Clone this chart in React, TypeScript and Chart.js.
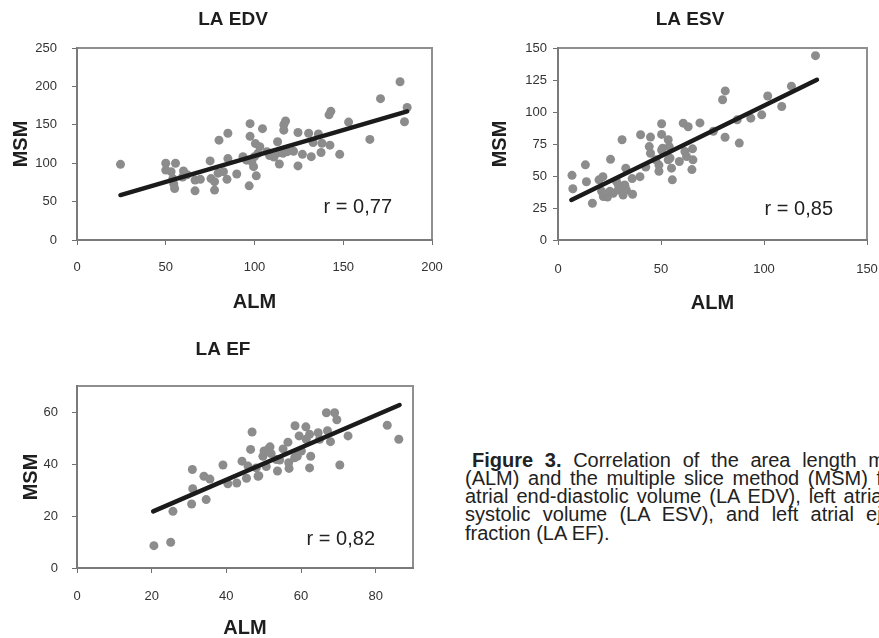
import React, { useEffect, useRef } from "react";
import { Chart, registerables } from "chart.js";

Chart.register(...registerables);

const FONT = '"Liberation Sans", Arial, Helvetica, sans-serif';

// ---------- LA EDV ----------
const edvTitle = "LA EDV";
const edvR = "r = 0,77";
const edvALM = [24.5, 50, 55.5, 50, 53, 60, 62, 59.5, 54, 54.5, 55, 66.5, 66.5, 69.5, 75, 75.5, 77.5, 77.5, 80, 79.5, 82.5, 85, 85, 84.5, 90, 93.5, 97.5, 97.5, 97, 95.5, 98.5, 99.5, 101, 100.5, 103, 104.5, 100, 102, 107, 108.5, 111, 113, 114, 113.5, 116, 116.5, 117.5, 116.5, 118.5, 122, 124.5, 124.5, 127, 130.5, 132, 133, 136, 137.5, 138, 142.5, 142, 143, 148, 153, 165, 171, 182, 186, 184.5];
const edvMSM = [98.5, 100, 100, 91, 89, 90, 85, 82, 80, 73, 67, 64, 78, 79, 103, 80, 76, 65, 130, 87, 89, 139, 106, 79, 86, 108.5, 151.5, 135, 70.5, 104, 102, 95.5, 83.5, 125.5, 121.5, 145, 108.5, 113, 115, 110, 108, 128, 99, 113.5, 113, 150, 155, 143, 115, 115.5, 140, 96.5, 111.5, 139, 108.5, 127, 138, 114, 126, 123.5, 163, 167.5, 111.5, 153.5, 131, 184, 206, 172.5, 154];
const edvFitALM = [24.5, 186];
const edvFitMSM = [58.5, 167.5];
const edvXTicks = [0, 50, 100, 150, 200];
const edvYTicks = [0, 50, 100, 150, 200, 250];
const edvXRange = [0, 200];
const edvYRange = [0, 250];

// ---------- LA ESV ----------
const esvTitle = "LA ESV";
const esvR = "r = 0,85";
const esvALM = [6.8, 7.2, 13.3, 13.8, 16.7, 19.9, 21.8, 21.2, 22, 24, 25.5, 26.8, 25.2, 28.4, 29.2, 31.1, 31.6, 32.9, 32.4, 33.2, 36.2, 36, 39.8, 40.1, 42.6, 44.9, 44.3, 44.9, 47.5, 49, 49, 50.3, 50.3, 50.8, 50.3, 53.5, 54, 53.5, 54.4, 55.1, 55.5, 58.9, 60.8, 63.2, 61.6, 62.4, 65.3, 65.5, 65, 68.9, 75.4, 79.9, 81.2, 81.1, 87, 88, 93.6, 98.9, 101.8, 108.6, 113.3, 125, 29.3, 32.5];
const esvMSM = [50.5, 40, 58.7, 45.5, 28.7, 47, 49.5, 38, 34, 33.5, 63, 36.5, 38, 45.7, 39, 78.3, 35.2, 56.1, 43, 39, 35.7, 48, 49.5, 82.2, 57, 80.4, 73, 67.8, 62.6, 58.5, 53.7, 90.8, 82.5, 71.7, 70.3, 78.3, 73, 62.6, 64, 56.1, 47, 61.3, 91.3, 88.5, 69.1, 65.2, 71.2, 62.6, 55, 91.5, 85, 109.6, 116.5, 80.3, 93.9, 75.7, 95.2, 97.8, 112.5, 104.3, 120.2, 144, 43, 41.7];
const esvFitALM = [6.5, 125.7];
const esvFitMSM = [31.3, 125.2];
const esvXTicks = [0, 50, 100, 150];
const esvYTicks = [0, 25, 50, 75, 100, 125, 150];
const esvXRange = [0, 150];
const esvYRange = [0, 150];

// ---------- LA EF ----------
const efTitle = "LA EF";
const efR = "r = 0,82";
const efALM = [20.6, 25.1, 25.7, 30.7, 30.9, 31, 34, 34.6, 35.6, 39.1, 40.4, 42.8, 44.2, 45.4, 46.5, 46.9, 45.8, 48.7, 48, 49.8, 50.1, 50.7, 51.3, 51.7, 53.4, 53.7, 54.3, 55.2, 56.5, 56.7, 56.8, 58.4, 58.3, 59, 59.5, 60.1, 61.3, 61.4, 62.3, 62.6, 62.3, 64.6, 65, 66.8, 67.1, 67.9, 69, 69.6, 70.4, 72.6, 83.1, 86.2, 52, 48.5];
const efMSM = [8.6, 9.9, 21.8, 24.6, 37.9, 30.5, 35.3, 26.3, 34.2, 39.6, 32.4, 32.7, 41.1, 34.5, 45.6, 52.3, 39.2, 35.5, 38.5, 43, 45, 39, 45.8, 46.6, 41.7, 37.3, 41.5, 45.8, 48.4, 40.5, 38.3, 54.7, 42.4, 43, 50.8, 45, 54.3, 49.5, 51.4, 43, 38.5, 52, 49.5, 59.7, 52.8, 48.6, 59.7, 57, 39.6, 50.8, 54.9, 49.5, 44, 35.3];
const efFitALM = [20.4, 86.4];
const efFitMSM = [21.8, 62.7];
const efXTicks = [0, 20, 40, 60, 80];
const efYTicks = [0, 20, 40, 60];
const efXRange = [0, 90];
const efYRange = [0, 70];

const xAxisTitle = "ALM";
const yAxisTitle = "MSM";

const captionLines = [
  "Figure 3.|Correlation of the area length method",
  "(ALM) and the multiple slice method (MSM) for left",
  "atrial end-diastolic volume (LA EDV), left atrial end-",
  "systolic volume (LA ESV), and left atrial ejection",
  "fraction (LA EF).",
];

type PanelSpec = {
  title: string;
  rText: string;
  xs: number[];
  ys: number[];
  fitX: number[];
  fitY: number[];
  xTicks: number[];
  yTicks: number[];
  xRange: number[];
  yRange: number[];
  box: { left: number; top: number; width: number; height: number };
  area: { l: number; t: number; r: number; b: number };
  yTickPad: number;
  xTickPad: number;
  yTitleX: number;
  xTitleY: number;
  titleX: number;
  titleY: number;
  rRight: number;
  rBase: number;
};

const panels: PanelSpec[] = [
  {
    title: edvTitle, rText: edvR, xs: edvALM, ys: edvMSM, fitX: edvFitALM, fitY: edvFitMSM,
    xTicks: edvXTicks, yTicks: edvYTicks, xRange: edvXRange, yRange: edvYRange,
    box: { left: 0, top: 0, width: 445, height: 318 },
    area: { l: 77, t: 48, r: 432, b: 240 },
    yTickPad: 15, xTickPad: 15, yTitleX: 21.7, xTitleY: 302,
    titleX: 233, titleY: 20, rRight: 392, rBase: 213,
  },
  {
    title: esvTitle, rText: esvR, xs: esvALM, ys: esvMSM, fitX: esvFitALM, fitY: esvFitMSM,
    xTicks: esvXTicks, yTicks: esvYTicks, xRange: esvXRange, yRange: esvYRange,
    box: { left: 445, top: 0, width: 434, height: 318 },
    area: { l: 558, t: 48, r: 867, b: 240 },
    yTickPad: 6, xTickPad: 17, yTitleX: 500, xTitleY: 303,
    titleX: 690, titleY: 19.5, rRight: 833, rBase: 215,
  },
  {
    title: efTitle, rText: efR, xs: efALM, ys: efMSM, fitX: efFitALM, fitY: efFitMSM,
    xTicks: efXTicks, yTicks: efYTicks, xRange: efXRange, yRange: efYRange,
    box: { left: 0, top: 318, width: 445, height: 320 },
    area: { l: 77, t: 386, r: 413, b: 568 },
    yTickPad: 14, xTickPad: 16, yTitleX: 31.7, xTitleY: 628,
    titleX: 223, titleY: 350, rRight: 375, rBase: 545,
  },
];

function Panel({ p }: { p: PanelSpec }) {
  const ref = useRef<HTMLCanvasElement>(null);
  useEffect(() => {
    const canvas = ref.current;
    if (!canvas) return;
    const { box, area } = p;
    const yW = area.l - box.left;
    const xH = box.top + box.height - area.b;
    const axisTitleSize = 20;
    const titleFont = { family: FONT, size: axisTitleSize, weight: "bold" as const, lineHeight: 1 };

    const decor = {
      id: "decor" + p.title.replace(/\s/g, ""),
      beforeDraw(chart: any) {
        const { ctx, chartArea: a } = chart;
        ctx.save();
        ctx.strokeStyle = "#8f8f8f";
        ctx.lineWidth = 2;
        ctx.strokeRect(a.left, a.top, a.right - a.left, a.bottom - a.top);
        ctx.restore();
      },
      afterDraw(chart: any) {
        const { ctx } = chart;
        ctx.save();
        ctx.fillStyle = "#1e1e1e";
        ctx.font = `bold 19px ${FONT}`;
        ctx.textAlign = "center";
        ctx.textBaseline = "middle";
        ctx.fillText(p.title, p.titleX - box.left, p.titleY - box.top);
        ctx.font = `20px ${FONT}`;
        ctx.textAlign = "right";
        ctx.textBaseline = "alphabetic";
        ctx.fillStyle = "#222";
        ctx.fillText(p.rText, p.rRight - box.left, p.rBase - box.top);
        ctx.restore();
      },
    };

    const chart = new Chart(canvas, {
      type: "scatter",
      data: {
        datasets: [
          {
            data: p.fitX.map((x, i) => ({ x, y: p.fitY[i] })),
            showLine: true,
            borderColor: "#1b1b1b",
            borderWidth: 4.5,
            borderCapStyle: "round",
            pointRadius: 0,
            order: 0,
          } as any,
          {
            data: p.xs.map((x, i) => ({ x, y: p.ys[i] })),
            pointRadius: 4.5,
            pointBackgroundColor: "#8c8c8c",
            pointBorderWidth: 0,
            pointBorderColor: "#8c8c8c",
            order: 1,
          } as any,
        ],
      },
      options: {
        responsive: false,
        animation: false,
        events: [],
        layout: {
          padding: {
            left: 0,
            top: area.t - box.top,
            right: box.left + box.width - area.r,
            bottom: 0,
          },
        },
        plugins: {
          legend: { display: false },
          tooltip: { enabled: false },
          title: { display: false },
        },
        scales: {
          x: {
            type: "linear",
            position: "bottom",
            min: p.xRange[0],
            max: p.xRange[1],
            afterBuildTicks: (s: any) => {
              s.ticks = p.xTicks.map((v) => ({ value: v }));
            },
            afterFit: (s: any) => {
              s.height = xH;
              s.paddingLeft = 0;
              s.paddingRight = 0;
            },
            grid: { drawOnChartArea: false, drawTicks: true, tickLength: 5, color: "#6f6f6f", lineWidth: 1 },
            border: { display: true, color: "#7a7a7a", width: 2 },
            ticks: {
              color: "#333",
              font: { family: FONT, size: 13 },
              padding: p.xTickPad,
              maxRotation: 0,
              autoSkip: false,
            },
            title: {
              display: true,
              text: xAxisTitle,
              color: "#1e1e1e",
              font: titleFont,
              padding: { top: 0, bottom: box.top + box.height - p.xTitleY - axisTitleSize / 2 },
            },
          } as any,
          y: {
            type: "linear",
            position: "left",
            min: p.yRange[0],
            max: p.yRange[1],
            afterBuildTicks: (s: any) => {
              s.ticks = p.yTicks.map((v) => ({ value: v }));
            },
            afterFit: (s: any) => {
              s.width = yW;
              s.paddingTop = 0;
              s.paddingBottom = 0;
            },
            grid: { drawOnChartArea: false, drawTicks: true, tickLength: 5, color: "#6f6f6f", lineWidth: 1 },
            border: { display: true, color: "#7a7a7a", width: 2 },
            ticks: {
              color: "#333",
              font: { family: FONT, size: 13 },
              padding: p.yTickPad,
              autoSkip: false,
            },
            title: {
              display: true,
              text: yAxisTitle,
              color: "#1e1e1e",
              font: titleFont,
              padding: { top: p.yTitleX - box.left - axisTitleSize / 2, bottom: 0 },
            },
          } as any,
        },
      },
      plugins: [decor],
    } as any);
    return () => chart.destroy();
  }, [p]);

  return (
    <canvas
      ref={ref}
      width={p.box.width}
      height={p.box.height}
      style={{
        position: "absolute",
        left: p.box.left,
        top: p.box.top,
        width: p.box.width,
        height: p.box.height,
      }}
    />
  );
}

export default function App() {
  const last = captionLines.length - 1;
  return (
    <div
      style={{
        position: "absolute",
        left: 0,
        top: 0,
        width: 879,
        height: 638,
        overflow: "hidden",
        background: "#fff",
      }}
    >
      {panels.map((p) => (
        <Panel key={p.title} p={p} />
      ))}
      <div
        style={{
          position: "absolute",
          left: 465,
          top: 450.5,
          width: 470,
          fontFamily: FONT,
          fontSize: 20,
          lineHeight: "18.3px",
          color: "#222",
        }}
      >
        {captionLines.map((ln, i) => {
          const parts = ln.split("|");
          const justify = i < last;
          return (
            <div
              key={i}
              style={{
                textAlign: justify ? "justify" : "left",
                textAlignLast: justify ? "justify" : "left",
                textIndent: i === 0 ? 7 : 0,
                whiteSpace: "normal",
              } as any}
            >
              {parts.length > 1 ? (
                <>
                  <b>{parts[0]}</b> {parts[1]}
                </>
              ) : (
                ln
              )}
            </div>
          );
        })}
      </div>
    </div>
  );
}
